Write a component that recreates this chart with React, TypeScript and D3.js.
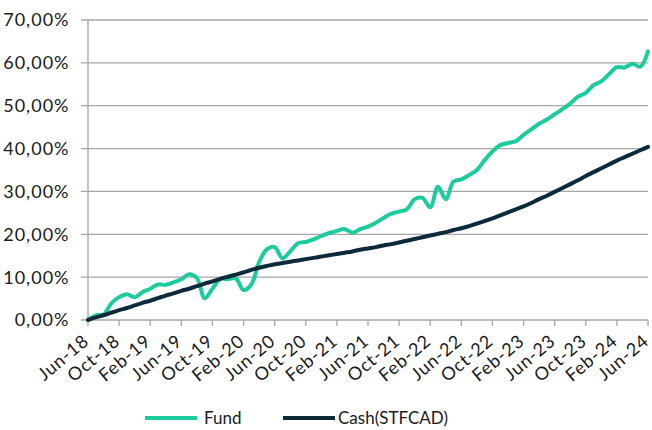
import { useEffect, useRef } from 'react'
import * as d3 from 'd3'

// monthly returns, Jun-18 .. Jun-24 (cumulative %)
const fund = [
  0, 1.1, 1.3, 3.9, 5.3, 6.0, 5.3, 6.5, 7.3, 8.3, 8.2, 8.8,
  9.5, 10.7, 9.8, 5.1, 7.3, 9.5, 9.5, 9.7, 7.0, 8.3, 13.5, 16.5,
  17.0, 14.4, 16.0, 17.9, 18.2, 18.8, 19.6, 20.3, 20.8, 21.2, 20.4, 21.2,
  21.8, 22.7, 23.8, 24.8, 25.3, 25.8, 28.2, 28.5, 26.3, 31.1, 28.2, 32.3,
  32.8, 33.8, 35.0, 37.3, 39.3, 40.8, 41.3, 41.7, 43.2, 44.5, 45.8, 46.8,
  48.0, 49.2, 50.5, 52.1, 53.0, 54.8, 55.7, 57.4, 59.0, 58.9, 59.8, 59.1,
  62.7,
]
const cash = [
  0, 0.6, 1.1, 1.7, 2.3, 2.8, 3.4, 4.0, 4.5, 5.1, 5.7, 6.2,
  6.8, 7.3, 7.9, 8.5, 9.0, 9.6, 10.1, 10.6, 11.1, 11.7, 12.2, 12.6,
  13.0, 13.3, 13.6, 13.9, 14.2, 14.5, 14.8, 15.1, 15.4, 15.7, 16.0, 16.4,
  16.7, 17.0, 17.4, 17.7, 18.1, 18.5, 18.9, 19.3, 19.7, 20.1, 20.5, 21.0,
  21.4, 21.9, 22.5, 23.1, 23.7, 24.4, 25.1, 25.8, 26.5, 27.3, 28.2, 29.0,
  29.9, 30.8, 31.7, 32.6, 33.6, 34.5, 35.4, 36.3, 37.2, 38.0, 38.8, 39.6,
  40.4,
]
const tickLabels = [
  'Jun-18', 'Oct-18', 'Feb-19', 'Jun-19', 'Oct-19', 'Feb-20', 'Jun-20',
  'Oct-20', 'Feb-21', 'Jun-21', 'Oct-21', 'Feb-22', 'Jun-22', 'Oct-22',
  'Feb-23', 'Jun-23', 'Oct-23', 'Feb-24', 'Jun-24',
]
const yTicks = [0, 10, 20, 30, 40, 50, 60, 70]
const series = [
  { name: 'Fund', values: fund, color: '#1dcc9c' },
  { name: 'Cash(STFCAD)', values: cash, color: '#0c2a3a' },
]

const W = 652, H = 430
const FONT = 'Lato, "Open Sans", sans-serif'

export default function App() {
  const svgRef = useRef<SVGSVGElement>(null)

  useEffect(() => {
    const svg = d3.select(svgRef.current)
    svg.selectAll('*').remove()

    const x = d3.scaleLinear().domain([0, fund.length - 1]).range([88, 648])
    const y = d3.scaleLinear().domain([0, 70]).range([320, 20])

    // gridlines
    svg.append('g').selectAll('line')
      .data(yTicks)
      .join('line')
      .attr('x1', 81).attr('x2', 648)
      .attr('y1', d => y(d)).attr('y2', d => y(d))
      .attr('stroke', '#a6a6a6').attr('stroke-width', 1.3)

    // y axis line
    svg.append('line')
      .attr('x1', x(0)).attr('x2', x(0))
      .attr('y1', y(70)).attr('y2', y(0))
      .attr('stroke', '#a6a6a6').attr('stroke-width', 1.3)

    // y labels
    svg.append('g').selectAll('text')
      .data(yTicks)
      .join('text')
      .attr('x', 69.5).attr('y', d => y(d))
      .attr('dy', '0.36em')
      .attr('text-anchor', 'end')
      .attr('font-family', FONT).attr('font-size', 18)
      .attr('letter-spacing', 1.0)
      .attr('fill', '#1a1a1a')
      .text(d => d3.format('.2f')(d).replace('.', ',') + '%')

    // x ticks + labels
    const xt = svg.append('g')
    tickLabels.forEach((lab, i) => {
      const xx = x(i * 4)
      xt.append('line')
        .attr('x1', xx).attr('x2', xx).attr('y1', y(0)).attr('y2', y(0) + 6)
        .attr('stroke', '#a6a6a6').attr('stroke-width', 1.3)
      xt.append('text')
        .attr('transform', `translate(${xx + 2},${y(0) + 23}) rotate(-40)`)
        .attr('text-anchor', 'end')
        .attr('font-family', FONT).attr('font-size', 18)
        .attr('letter-spacing', 0.8)
        .attr('fill', '#1a1a1a')
        .text(lab)
    })

    const line = d3.line<number>()
      .x((_, i) => x(i))
      .y(d => y(d))
      .curve(d3.curveCatmullRom.alpha(0.5))

    series.forEach(s => {
      svg.append('path')
        .datum(s.values)
        .attr('d', line)
        .attr('fill', 'none')
        .attr('stroke', s.color)
        .attr('stroke-width', 4)
        .attr('stroke-linejoin', 'round')
        .attr('stroke-linecap', 'round')
    })

    // legend
    const legX = [145, 283]
    const legGap = [7, 3]
    series.forEach((s, i) => {
      const g = svg.append('g').attr('transform', `translate(${legX[i]},418)`)
      g.append('line').attr('x1', 0).attr('x2', 52)
        .attr('stroke', s.color).attr('stroke-width', 4)
      g.append('text').attr('x', 52 + legGap[i]).attr('dy', '0.35em')
        .attr('font-family', FONT).attr('font-size', 17)
        .attr('fill', '#1a1a1a')
        .text(s.name)
    })
  }, [])

  return (
    <svg ref={svgRef} width={W} height={H}
      style={{ position: 'absolute', left: 0, top: 0, background: '#fff' }} />
  )
}
